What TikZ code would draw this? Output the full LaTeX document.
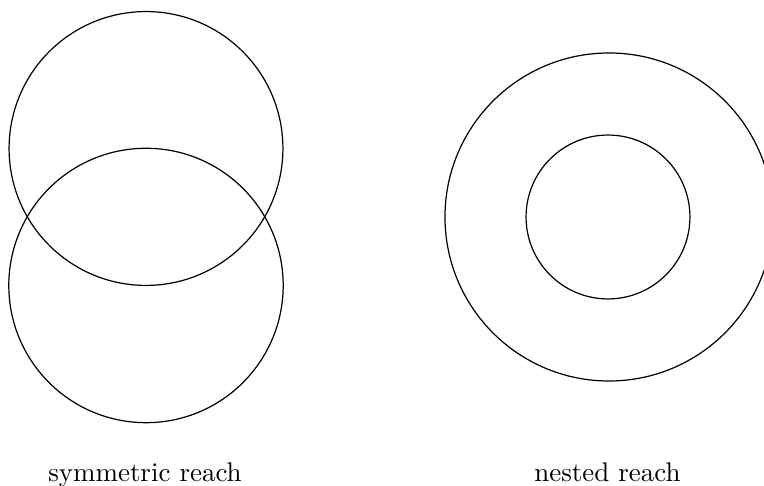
\documentclass[tikz,border=0pt]{standalone}
\usepackage{tikz}
\tikzset{
  reach/.style={draw, circle, line width=0.45pt, inner sep=0pt},
  caption/.style={anchor=base, inner sep=0pt}
}

\begin{document}
\begin{tikzpicture}[x=0.371pt, y=0.371pt]
      \clip (0,0) rectangle (764,486);
      % symmetric: two equal circles, each through the other's centre
      \node[reach, minimum size=101.6pt] (upper) at (146,337.5) {};
      \node[reach, minimum size=101.8pt] (lower) at (146,200.5) {};
      \node[caption] (symlabel) at (145,4) {symmetric reach};
      % nested: one circle inside the other
      \node[reach, minimum size=121.7pt] (outer) at (609,269) {};
      \node[reach, minimum size=60.8pt] (inner) at (608,269) {};
      \node[caption] (nestlabel) at (607.5,4) {nested reach};
    \end{tikzpicture}
\end{document}
